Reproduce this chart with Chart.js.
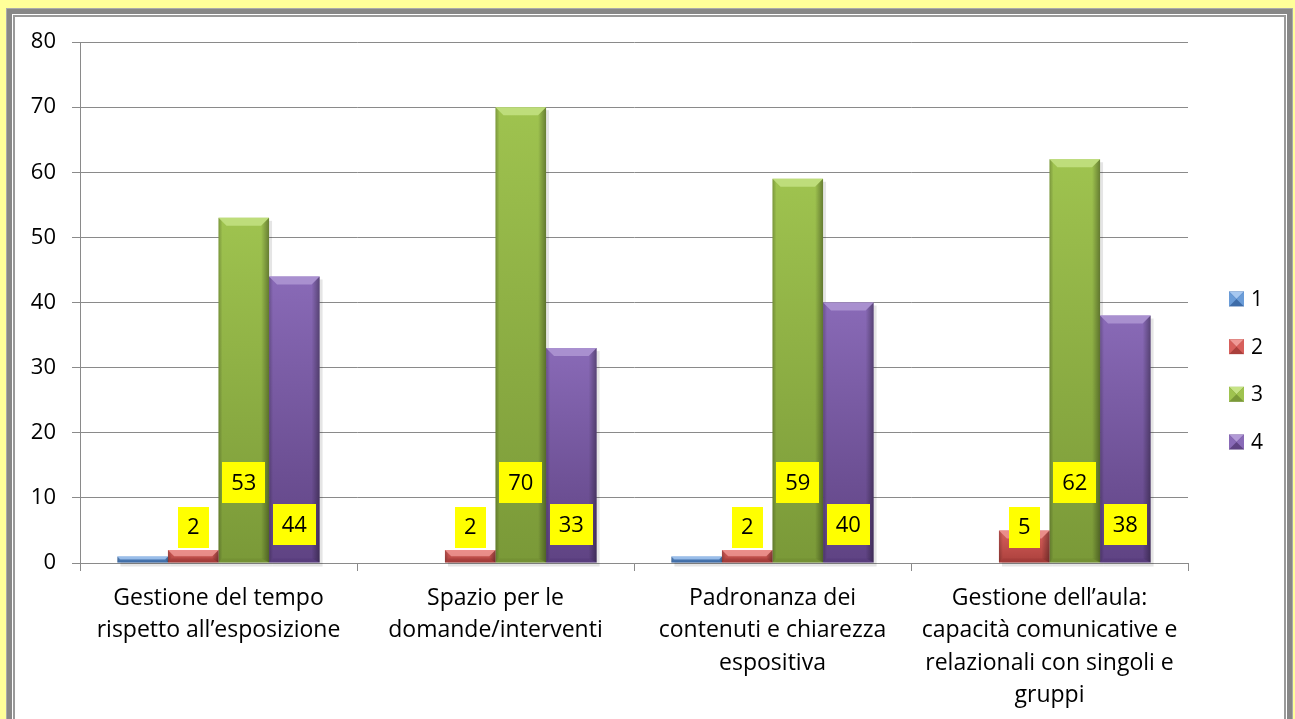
<!DOCTYPE html>
<html>
<head>
<meta charset="utf-8">
<script src="https://cdn.jsdelivr.net/npm/chart.js@4/dist/chart.umd.min.js"></script>
<style>
  html,body{margin:0;padding:0;background:#FFFF99;width:1295px;height:719px;overflow:hidden;}
  .frame{position:absolute;left:6px;top:8px;width:1287px;height:760px;box-sizing:border-box;border:1px solid #aaa;background:#fff;
    box-shadow: inset 0 0 0 5px #878787, inset 0 0 0 6px #fff, inset 0 0 0 8px #9a9a9a;}
  #wrap{position:absolute;left:16px;top:17px;width:1269px;height:702px;}
</style>
</head>
<body>
<div class="frame"></div>
<div id="wrap"><canvas id="c" width="1269" height="702"></canvas></div>
<script>
// ---- data ----
const categories = [
  ["Gestione del tempo","rispetto all’esposizione"],
  ["Spazio per le","domande/interventi"],
  ["Padronanza dei","contenuti e chiarezza","espositiva"],
  ["Gestione dell’aula:","capacità comunicative e","relazionali con singoli e","gruppi"]
];
const seriesNames = ["1","2","3","4"];
const series1 = [1, 0, 1, 0];
const series2 = [2, 2, 2, 5];
const series3 = [53, 70, 59, 62];
const series4 = [44, 33, 40, 38];
const yTicks = [0,10,20,30,40,50,60,70,80];

// ---- styles ----
const FONT = '"Open Sans", Lato, sans-serif';
const palette = [
  {top:'#6a9cd8', bot:'#3e6ca8', light:'#a7c8f0', dark:'#2f5890'},
  {top:'#d75f5b', bot:'#aa403c', light:'#f09a96', dark:'#8e302d'},
  {top:'#9fc34f', bot:'#7a9938', light:'#c6e386', dark:'#66822b'},
  {top:'#896ab7', bot:'#5f4383', light:'#b29ad6', dark:'#4b3370'}
];
// label vertical anchor (in axis units) per dataset; null = no label
const labelAnchor = [null, 5.5, 12.4, 5.9];

function barGradient(i){
  return function(ctx){
    const chart = ctx.chart;
    const ys = chart.scales.y;
    if (!ys || ctx.type !== 'data') return palette[i].top;
    const v = ctx.parsed ? ctx.parsed.y : 0;
    const t = ys.getPixelForValue(v), b = ys.getPixelForValue(0);
    if (!isFinite(t) || !isFinite(b) || t === b) return palette[i].top;
    const g = chart.ctx.createLinearGradient(0, t, 0, b);
    g.addColorStop(0, palette[i].top);
    g.addColorStop(1, palette[i].bot);
    return g;
  };
}

const bevelPlugin = {
  id:'bevel',
  beforeDatasetsDraw(chart){
    const c = chart.ctx;
    c.save();
    chart.data.datasets.forEach((ds, di)=>{
      chart.getDatasetMeta(di).data.forEach((el, j)=>{
        if (!ds.data[j]) return;
        const p = el.getProps(['x','y','base','width'], true);
        c.fillStyle = 'rgba(0,0,0,0.10)';
        c.fillRect(p.x - p.width/2 + 3, p.y + 3, p.width, p.base - p.y + 1);
      });
    });
    c.restore();
  },
  afterDatasetsDraw(chart){
    const c = chart.ctx;
    chart.data.datasets.forEach((ds, di)=>{
      const meta = chart.getDatasetMeta(di);
      meta.data.forEach((el, j)=>{
        const v = ds.data[j];
        if (!v) return;
        const p = el.getProps(['x','y','base','width'], true);
        const l = p.x - p.width/2, r = p.x + p.width/2, t = p.y, b = p.base;
        const h = b - t;
        const bv = Math.min(8, h/2);
        const sv = Math.min(4, h/2);
        c.save();
        c.fillStyle = palette[di].light; c.globalAlpha = 0.8;
        c.beginPath(); c.moveTo(l,t); c.lineTo(r,t); c.lineTo(r-bv,t+bv); c.lineTo(l+bv,t+bv); c.closePath(); c.fill();
        let g = c.createLinearGradient(l,0,l+sv,0);
        g.addColorStop(0,'rgba(0,0,0,0.22)'); g.addColorStop(1,'rgba(0,0,0,0)');
        c.globalAlpha = 1; c.fillStyle = g;
        c.beginPath(); c.moveTo(l,t); c.lineTo(l+sv,t+sv); c.lineTo(l+sv,b-sv); c.lineTo(l,b); c.closePath(); c.fill();
        g = c.createLinearGradient(r,0,r-bv,0);
        g.addColorStop(0,'rgba(0,0,0,0.35)'); g.addColorStop(1,'rgba(0,0,0,0)');
        c.fillStyle = g;
        c.beginPath(); c.moveTo(r,t); c.lineTo(r-bv,t+bv); c.lineTo(r-bv,b-sv); c.lineTo(r,b); c.closePath(); c.fill();
        c.globalAlpha = 0.3; c.fillStyle = palette[di].dark;
        c.beginPath(); c.moveTo(l,b); c.lineTo(l+sv,b-sv); c.lineTo(r-sv,b-sv); c.lineTo(r,b); c.closePath(); c.fill();
        c.restore();
      });
    });
  }
};

const labelPlugin = {
  id:'yellowLabels',
  afterDatasetsDraw(chart){
    const c = chart.ctx, ys = chart.scales.y;
    c.save();
    c.font = '22px ' + FONT;
    c.textAlign = 'center'; c.textBaseline = 'middle';
    chart.data.datasets.forEach((ds, di)=>{
      const anchor = labelAnchor[di];
      if (anchor === null) return;
      const meta = chart.getDatasetMeta(di);
      meta.data.forEach((el, j)=>{
        const txt = String(ds.data[j]);
        const cy = ys.getPixelForValue(anchor);
        const w = c.measureText(txt).width + 18, h = 41;
        c.fillStyle = '#FFFF00';
        c.fillRect(Math.round(el.x - w/2), Math.round(cy - h/2), Math.round(w), h);
        c.fillStyle = '#000';
        c.fillText(txt, el.x, cy + 1);
      });
    });
    c.restore();
  }
};

const legendPlugin = {
  id:'customLegend',
  afterDraw(chart){
    const c = chart.ctx, area = chart.chartArea;
    const x0 = area.right + 41;
    const yMid = (area.top + area.bottom)/2 + 68;
    const gap = 47.7;
    c.save();
    c.font = '21px ' + FONT;
    c.textBaseline = 'middle'; c.textAlign = 'left';
    seriesNames.forEach((name, i)=>{
      const cy = yMid + (i - 1.5)*gap;
      const s = 15, x = x0, y = cy - s/2;
      const p = palette[i];
      c.fillStyle = p.bot; c.fillRect(x, y, s, s);
      c.fillStyle = p.light; c.beginPath(); c.moveTo(x,y); c.lineTo(x+s,y); c.lineTo(x+s/2,y+s/2); c.closePath(); c.fill();
      c.fillStyle = p.top; c.beginPath(); c.moveTo(x,y); c.lineTo(x+s/2,y+s/2); c.lineTo(x,y+s); c.closePath(); c.fill();
      c.beginPath(); c.moveTo(x+s,y); c.lineTo(x+s/2,y+s/2); c.lineTo(x+s,y+s); c.closePath(); c.fill();
      c.fillStyle = '#000';
      c.fillText(name, x + s + 7, cy + 1);
    });
    c.restore();
  }
};

const datasets = [series1, series2, series3, series4].map((d, i)=>({
  label: seriesNames[i],
  data: d,
  backgroundColor: barGradient(i),
  borderWidth: 0,
  barPercentage: 1.0,
  categoryPercentage: 0.73
}));

new Chart(document.getElementById('c'), {
  type:'bar',
  data:{ labels: categories, datasets },
  options:{
    responsive:false,
    animation:false,
    layout:{ padding:{ top:25, right:97, left:0, bottom:0 } },
    plugins:{ legend:{display:false}, tooltip:{enabled:false} },
    scales:{
      x:{
        grid:{ offset:true, drawOnChartArea:false, drawTicks:true, tickLength:8, color:'#8a8a8a', lineWidth:1 },
        border:{ color:'#8a8a8a', width:1 },
        ticks:{ color:'#000', font:{ family:FONT, size:23, lineHeight:1.413 }, padding:11, maxRotation:0, autoSkip:false },
        afterFit(s){ s.height = 156; s.paddingLeft = 0; s.paddingRight = 0; }
      },
      y:{
        min:0, max:80,
        afterBuildTicks(s){ s.ticks = yTicks.map(v=>({value:v})); },
        grid:{ color:'#8a8a8a', lineWidth:1, tickLength:8 },
        border:{ color:'#8a8a8a', width:1 },
        ticks:{ color:'#000', font:{ family:FONT, size:22 }, padding:16 },
        afterFit(s){ s.width = 64; s.paddingTop = 0; s.paddingBottom = 0; }
      }
    }
  },
  plugins:[bevelPlugin, labelPlugin, legendPlugin]
});
</script>
</body>
</html>
